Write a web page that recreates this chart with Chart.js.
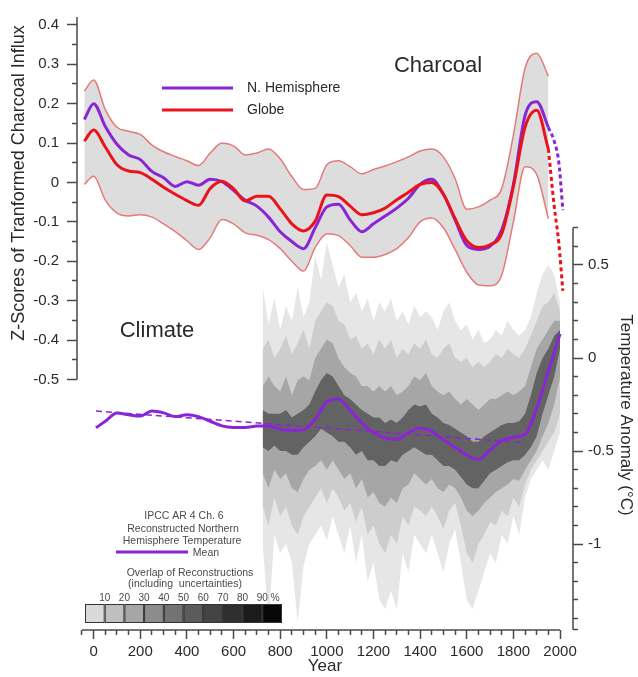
<!DOCTYPE html>
<html>
<head>
<meta charset="utf-8">
<script src="https://cdn.jsdelivr.net/npm/chart.js@4.4.1/dist/chart.umd.min.js"></script>
<style>
  html, body { margin: 0; padding: 0; background: #fff; }
  canvas { display: block; }
</style>
</head>
<body>
<canvas id="chart" width="638" height="677"></canvas>
<script>
// ---- Charcoal (z-scores of transformed charcoal influx) ----
const charcoalYears = [-40, 0, 50, 100, 150, 200, 250, 300, 350, 400, 450, 500, 550, 600, 650, 700, 750, 800, 850, 900,
  950, 1000, 1050, 1100, 1150, 1200, 1250, 1300, 1350, 1400, 1450, 1500, 1550, 1600, 1650, 1700, 1750, 1800, 1850, 1900, 1950];
const nhCharcoal = [0.16, 0.20, 0.142, 0.097, 0.07, 0.058, 0.028, 0.012, -0.01, 0.002, -0.007, 0.008, 0.002, -0.02, -0.045, -0.06, -0.088, -0.125, -0.15, -0.168,
  -0.115, -0.062, -0.055, -0.095, -0.125, -0.105, -0.085, -0.065, -0.04, -0.005, 0.008, -0.03, -0.095, -0.16, -0.17, -0.162, -0.12, -0.005, 0.17, 0.205, 0.14];
const globeCharcoal = [0.105, 0.133, 0.09, 0.045, 0.029, 0.025, 0.008, -0.012, -0.03, -0.046, -0.058, -0.015, 0.003, -0.016, -0.047, -0.035, -0.035, -0.067, -0.105, -0.123,
  -0.098, -0.032, -0.036, -0.06, -0.082, -0.077, -0.065, -0.044, -0.025, -0.005, 0.0, -0.03, -0.092, -0.148, -0.165, -0.158, -0.13, -0.01, 0.14, 0.183, 0.085];
const bandUpper = [0.232, 0.26, 0.185, 0.14, 0.13, 0.122, 0.095, 0.078, 0.066, 0.055, 0.043, 0.075, 0.10, 0.093, 0.07, 0.075, 0.085, 0.06, 0.015, -0.018,
  -0.015, 0.045, 0.055, 0.04, 0.022, 0.033, 0.042, 0.053, 0.065, 0.08, 0.085, 0.065, 0.01, -0.068, -0.062, -0.045, -0.015, 0.12, 0.29, 0.328, 0.27];
const bandLower = [-0.005, 0.016, -0.045, -0.078, -0.085, -0.082, -0.088, -0.105, -0.125, -0.148, -0.17, -0.14, -0.094, -0.105, -0.128, -0.134, -0.145, -0.168, -0.2, -0.225,
  -0.165, -0.13, -0.135, -0.16, -0.19, -0.19, -0.183, -0.168, -0.14, -0.1, -0.09, -0.115, -0.17, -0.228, -0.26, -0.262, -0.235, -0.1, 0.04, 0.02, -0.092];
// dashed recent extension
const recentYears = [1950, 1975, 1995, 2012];
const nhRecent = [0.14, 0.105, 0.05, -0.07];
const globeRecent = [0.085, -0.06, -0.155, -0.275];

// ---- Climate (IPCC AR4 reconstructed NH temperature, °C) ----
const climateYears = [10, 50, 100, 150, 200, 250, 300, 350, 400, 450, 500, 550, 600, 650, 700, 750, 800, 850, 900, 950,
  1000, 1050, 1100, 1150, 1200, 1250, 1300, 1350, 1400, 1450, 1500, 1550, 1600, 1650, 1700, 1750, 1800, 1850, 1900, 1950, 2000];
const climateMean = [-0.375, -0.34, -0.295, -0.305, -0.312, -0.285, -0.295, -0.315, -0.305, -0.315, -0.34, -0.365, -0.373, -0.373, -0.366, -0.365, -0.382, -0.39, -0.385, -0.33,
  -0.235, -0.22, -0.28, -0.35, -0.40, -0.43, -0.437, -0.40, -0.378, -0.395, -0.44, -0.48, -0.522, -0.545, -0.495, -0.445, -0.425, -0.41, -0.27, -0.07, 0.13];
const trendYears = [10, 1850];
const trendValues = [-0.285, -0.455];

// overlap of reconstructions: envelopes of four shading levels
const overlapYears = [725, 750, 775, 800, 825, 850, 875, 900, 925, 950, 975, 1000, 1025, 1050, 1075, 1100, 1125, 1150, 1175, 1200,
  1225, 1250, 1275, 1300, 1325, 1350, 1375, 1400, 1425, 1450, 1475, 1500, 1525, 1550, 1575, 1600, 1625, 1650, 1675, 1700,
  1725, 1750, 1775, 1800, 1825, 1850, 1875, 1900, 1925, 1950, 1975, 2000];
const lvl1Top = [0.38, 0.18, 0.32, 0.15, 0.28, 0.20, 0.38, 0.22, 0.30, 0.55, 0.42, 0.62, 0.50, 0.38, 0.45, 0.30, 0.35, 0.25, 0.32, 0.20,
  0.30, 0.25, 0.32, 0.20, 0.25, 0.18, 0.28, 0.22, 0.25, 0.22, 0.15, 0.25, 0.30, 0.20, 0.15, 0.18, 0.10, 0.15, 0.08, 0.10,
  0.15, 0.12, 0.20, 0.15, 0.12, 0.15, 0.22, 0.35, 0.45, 0.50, 0.45, 0.30];
const lvl1Bot = [-1.00, -1.42, -0.95, -1.05, -1.00, -1.10, -1.42, -1.12, -1.00, -0.95, -0.90, -0.98, -0.85, -0.95, -1.05, -0.90, -1.10, -0.95, -1.20, -1.10,
  -1.30, -1.35, -1.25, -1.35, -1.05, -1.15, -0.95, -1.00, -1.05, -0.95, -1.05, -1.15, -1.00, -0.92, -1.10, -1.30, -1.35, -1.25, -1.15, -1.05,
  -1.10, -0.95, -1.00, -0.85, -0.95, -0.75, -0.65, -0.60, -0.55, -0.60, -0.50, -0.40];
const lvl2Top = [0.05, 0.10, 0.00, 0.05, 0.12, 0.02, 0.08, 0.15, 0.05, 0.20, 0.25, 0.30, 0.28, 0.20, 0.18, 0.10, 0.12, 0.05, 0.08, 0.02,
  0.10, 0.05, 0.10, 0.00, 0.05, 0.02, 0.08, 0.05, 0.10, 0.02, 0.00, 0.05, 0.08, 0.00, -0.02, 0.00, -0.05, -0.02, -0.05, -0.02,
  0.02, 0.00, 0.05, 0.02, 0.00, 0.05, 0.12, 0.20, 0.28, 0.30, 0.35, 0.25];
const lvl2Bot = [-0.80, -0.90, -0.75, -0.85, -0.80, -0.90, -0.95, -0.85, -0.80, -0.75, -0.70, -0.78, -0.70, -0.75, -0.82, -0.78, -0.88, -0.80, -0.95, -0.90,
  -1.00, -1.05, -0.95, -1.00, -0.85, -0.90, -0.80, -0.82, -0.85, -0.80, -0.85, -0.92, -0.82, -0.78, -0.90, -1.05, -1.10, -1.00, -0.95, -0.88,
  -0.90, -0.82, -0.85, -0.75, -0.80, -0.68, -0.60, -0.55, -0.50, -0.45, -0.40, -0.30];
const lvl3Top = [-0.15, -0.10, -0.15, -0.18, -0.10, -0.20, -0.12, -0.10, -0.12, 0.00, 0.05, 0.10, 0.08, 0.00, -0.05, -0.08, -0.10, -0.15, -0.15, -0.18,
  -0.15, -0.18, -0.15, -0.20, -0.18, -0.15, -0.10, -0.12, -0.08, -0.15, -0.18, -0.20, -0.18, -0.22, -0.25, -0.22, -0.25, -0.28, -0.25, -0.22,
  -0.22, -0.20, -0.18, -0.20, -0.18, -0.15, -0.05, 0.05, 0.10, 0.15, 0.20, 0.20];
const lvl3Bot = [-0.62, -0.70, -0.60, -0.65, -0.62, -0.70, -0.72, -0.65, -0.60, -0.58, -0.55, -0.60, -0.55, -0.60, -0.65, -0.62, -0.70, -0.65, -0.75, -0.72,
  -0.78, -0.80, -0.75, -0.78, -0.70, -0.68, -0.62, -0.65, -0.68, -0.65, -0.70, -0.72, -0.68, -0.70, -0.75, -0.82, -0.85, -0.82, -0.78, -0.75,
  -0.72, -0.70, -0.68, -0.65, -0.66, -0.60, -0.55, -0.50, -0.42, -0.35, -0.25, -0.10];
const lvl4Top = [-0.28, -0.30, -0.30, -0.30, -0.28, -0.32, -0.30, -0.28, -0.25, -0.18, -0.12, -0.08, -0.10, -0.15, -0.20, -0.22, -0.25, -0.28, -0.30, -0.32,
  -0.32, -0.35, -0.33, -0.35, -0.32, -0.28, -0.25, -0.26, -0.25, -0.30, -0.32, -0.35, -0.36, -0.38, -0.40, -0.42, -0.45, -0.45, -0.42, -0.40,
  -0.38, -0.36, -0.35, -0.35, -0.34, -0.30, -0.20, -0.08, 0.00, 0.05, 0.12, 0.15];
const lvl4Bot = [-0.48, -0.50, -0.47, -0.50, -0.50, -0.52, -0.52, -0.48, -0.45, -0.42, -0.38, -0.40, -0.42, -0.45, -0.45, -0.48, -0.52, -0.50, -0.55, -0.55,
  -0.58, -0.58, -0.55, -0.56, -0.52, -0.50, -0.48, -0.50, -0.52, -0.52, -0.55, -0.58, -0.58, -0.60, -0.64, -0.68, -0.70, -0.70, -0.66, -0.62,
  -0.60, -0.58, -0.56, -0.55, -0.55, -0.52, -0.48, -0.42, -0.30, -0.20, -0.10, 0.05];

// ---- axes ----
const yearLabels = [0, 200, 400, 600, 800, 1000, 1200, 1400, 1600, 1800, 2000];
const charcoalLabels = [0.4, 0.3, 0.2, 0.1, 0, -0.1, -0.2, -0.3, -0.4, -0.5];
const tempLabels = [0.5, 0, -0.5, -1];
const overlapLegend = ['10', '20', '30', '40', '50', '60', '70', '80', '90'];

const PURPLE = '#8a25d6';
const RED = '#e8141c';
const EDGE = '#e57a7a';
const TEXT = '#2a2a2a';
const AXIS = '#4a4a4a';
const FONT = '"Liberation Sans", Arial, Helvetica, sans-serif';
const LEVEL_COLORS = ['#e6e6e6', '#cdcdcd', '#a6a6a6', '#636363'];
const BOX_COLORS = ['#d9d9d9', '#bfbfbf', '#a6a6a6', '#8c8c8c', '#737373', '#5b5b5b', '#444444', '#2f2f2f', '#1b1b1b', '#080808'];

Chart.defaults.font.family = FONT;
Chart.defaults.color = TEXT;

function pts(xs, ys) {
  return xs.map((x, i) => ({ x: x, y: ys[i] }));
}
function near(a, b) {
  return Math.abs(a - b) < 1e-6;
}
function stepTicks(from, to, step) {
  const out = [];
  for (let v = from; v <= to + 1e-9; v += step) out.push(Math.round(v * 1000) / 1000);
  return out;
}

// build datasets
const datasets = [];
const levels = [[lvl1Top, lvl1Bot], [lvl2Top, lvl2Bot], [lvl3Top, lvl3Bot], [lvl4Top, lvl4Bot]];
levels.forEach((lv, i) => {
  datasets.push({ data: pts(overlapYears, lv[0]), yAxisID: 'yT', fill: '+1', backgroundColor: LEVEL_COLORS[i],
    borderWidth: 0, pointRadius: 0, tension: 0, order: 90 - i * 10 });
  datasets.push({ data: pts(overlapYears, lv[1]), yAxisID: 'yT', fill: false,
    borderWidth: 0, pointRadius: 0, tension: 0, order: 89 - i * 10 });
});
datasets.push({ data: pts(trendYears, trendValues), yAxisID: 'yT', borderColor: PURPLE, borderWidth: 1.5,
  borderDash: [6, 4], pointRadius: 0, order: 50 });
datasets.push({ data: pts(climateYears, climateMean), yAxisID: 'yT', borderColor: PURPLE, borderWidth: 3,
  pointRadius: 0, cubicInterpolationMode: 'monotone', order: 45 });
datasets.push({ data: pts(charcoalYears, bandUpper), yAxisID: 'yC', fill: '+1', backgroundColor: '#dddddd',
  borderColor: EDGE, borderWidth: 1.5, pointRadius: 0, cubicInterpolationMode: 'monotone', order: 40 });
datasets.push({ data: pts(charcoalYears, bandLower), yAxisID: 'yC', fill: false,
  borderColor: EDGE, borderWidth: 1.5, pointRadius: 0, cubicInterpolationMode: 'monotone', order: 39 });
datasets.push({ data: pts(charcoalYears, nhCharcoal), yAxisID: 'yC', borderColor: PURPLE, borderWidth: 3,
  pointRadius: 0, cubicInterpolationMode: 'monotone', order: 30 });
datasets.push({ data: pts(recentYears, nhRecent), yAxisID: 'yC', borderColor: PURPLE, borderWidth: 3, borderDash: [4, 3],
  pointRadius: 0, cubicInterpolationMode: 'monotone', order: 30 });
datasets.push({ data: pts(charcoalYears, globeCharcoal), yAxisID: 'yC', borderColor: RED, borderWidth: 3,
  pointRadius: 0, cubicInterpolationMode: 'monotone', order: 20 });
datasets.push({ data: pts(recentYears, globeRecent), yAxisID: 'yC', borderColor: RED, borderWidth: 3, borderDash: [4, 3],
  pointRadius: 0, cubicInterpolationMode: 'monotone', order: 20 });

// minor ticks drawn as the inner part of the tick via a dash pattern
function tickDash(isMajor, inward) {
  return (ctx) => {
    if (isMajor(ctx.tick.value)) return [];
    return inward ? [0, 5, 5, 40] : [5, 40];
  };
}
const isYearMajor = (v) => yearLabels.some((l) => near(l, v));
const isCharMajor = (v) => charcoalLabels.some((l) => near(l, v));
const isTempMajor = (v) => tempLabels.some((l) => near(l, v));

// axes lines, titles and legends
const decorations = {
  id: 'decorations',
  afterDraw(chart) {
    const { ctx } = chart;
    const { x, yC, yT } = chart.scales;
    ctx.save();
    ctx.strokeStyle = AXIS;
    ctx.lineWidth = 1.5;
    ctx.beginPath();
    ctx.moveTo(x.getPixelForValue(-50), x.top);
    ctx.lineTo(x.getPixelForValue(2000), x.top);
    ctx.moveTo(yC.right, yC.getPixelForValue(0.42));
    ctx.lineTo(yC.right, yC.getPixelForValue(-0.5));
    ctx.moveTo(yT.left, yT.getPixelForValue(0.7));
    ctx.lineTo(yT.left, yT.getPixelForValue(-1.46));
    ctx.stroke();

    const txt = (s, px, py, size, align, rot, color) => {
      ctx.save();
      ctx.translate(px, py);
      if (rot) ctx.rotate(rot);
      ctx.font = size + 'px ' + FONT;
      ctx.fillStyle = color || TEXT;
      ctx.textAlign = align || 'center';
      ctx.textBaseline = 'middle';
      ctx.fillText(s, 0, 0);
      ctx.restore();
    };
    // axis titles
    txt('Z-Scores of Tranformed Charcoal Influx', 19, 183, 18, 'center', -Math.PI / 2);
    txt('Temperature Anomaly (\u00B0C)', 626, 415, 17, 'center', Math.PI / 2);
    // panel labels
    txt('Charcoal', 438, 66, 22);
    txt('Climate', 157, 331, 22);

    // charcoal legend
    ctx.lineWidth = 3;
    ctx.strokeStyle = PURPLE;
    ctx.beginPath(); ctx.moveTo(162, 88); ctx.lineTo(233, 88); ctx.stroke();
    ctx.strokeStyle = RED;
    ctx.beginPath(); ctx.moveTo(162, 110); ctx.lineTo(233, 110); ctx.stroke();
    txt('N. Hemisphere', 247, 88, 14, 'left');
    txt('Globe', 247, 110, 14, 'left');

    // climate legend
    const grey = '#4a4a4a';
    txt('IPCC AR 4 Ch. 6', 184, 516, 10.5, 'center', 0, grey);
    txt('Reconstructed Northern', 183, 529, 10.5, 'center', 0, grey);
    txt('Hemisphere Temperature', 182, 541, 10.5, 'center', 0, grey);
    ctx.strokeStyle = PURPLE;
    ctx.lineWidth = 3;
    ctx.beginPath(); ctx.moveTo(116, 552); ctx.lineTo(188, 552); ctx.stroke();
    txt('Mean', 206, 553, 10.5, 'center', 0, grey);
    txt('Overlap of Reconstructions', 190, 573, 10.5, 'center', 0, grey);
    txt('(including  uncertainties)', 185, 584, 10.5, 'center', 0, grey);
    const bx = 85, bw = 19.7, by = 604, bh = 19;
    BOX_COLORS.forEach((c, i) => {
      ctx.fillStyle = c;
      ctx.fillRect(bx + i * bw, by, bw, bh);
      ctx.strokeStyle = '#333';
      ctx.lineWidth = 1;
      ctx.strokeRect(bx + i * bw + 0.5, by + 0.5, bw - 1, bh - 1);
    });
    overlapLegend.forEach((s, i) => txt(s, bx + (i + 1) * bw, 598, 10, 'center', 0, grey));
    txt('%', bx + 9 * bw + 13, 598, 10, 'center', 0, grey);
    ctx.restore();
  }
};

new Chart(document.getElementById('chart'), {
  type: 'line',
  data: { datasets: datasets },
  options: {
    responsive: false,
    animation: false,
    events: [],
    layout: { padding: { top: 17, left: 0, right: 0, bottom: 0 } },
    plugins: { legend: { display: false }, tooltip: { enabled: false } },
    scales: {
      x: {
        type: 'linear',
        position: 'bottom',
        min: -71.4,
        max: 2055.6,
        afterBuildTicks: (s) => { s.ticks = stepTicks(-50, 2000, 50).map((v) => ({ value: v })); },
        afterFit: (s) => { s.height = 47; },
        border: { display: false },
        grid: { drawOnChartArea: false, tickLength: 9, tickColor: AXIS, tickWidth: 1.5,
          tickBorderDash: tickDash(isYearMajor, false) },
        ticks: { autoSkip: false, maxRotation: 0, padding: 4, color: TEXT, font: { size: 15 },
          callback: (v) => (isYearMajor(v) ? String(Math.round(v)) : '') },
        title: { display: true, text: 'Year', color: TEXT, font: { size: 17 }, padding: { top: 0, bottom: 0 } }
      },
      yC: {
        type: 'linear',
        position: 'left',
        min: -1.136,
        max: 0.42,
        afterBuildTicks: (s) => { s.ticks = stepTicks(-0.5, 0.4, 0.05).map((v) => ({ value: v })); },
        afterFit: (s) => { s.width = 77; },
        border: { display: false },
        grid: { drawOnChartArea: false, tickLength: 10, tickColor: AXIS, tickWidth: 1.5,
          tickBorderDash: tickDash(isCharMajor, true) },
        ticks: { autoSkip: false, padding: 8, color: TEXT, font: { size: 15 },
          callback: (v) => (isCharMajor(v) ? (near(v, 0) ? '0' : v.toFixed(1)) : '') }
      },
      yT: {
        type: 'linear',
        position: 'right',
        min: -1.462,
        max: 1.833,
        afterBuildTicks: (s) => {
          s.ticks = [{ value: -1.46 }].concat(stepTicks(-1.4, 0.7, 0.1).map((v) => ({ value: v })));
        },
        afterFit: (s) => { s.width = 65; },
        border: { display: false },
        grid: { drawOnChartArea: false, tickLength: 10, tickColor: AXIS, tickWidth: 1.5,
          tickBorderDash: tickDash(isTempMajor, false) },
        ticks: { autoSkip: false, padding: 5, color: TEXT, font: { size: 15 },
          callback: (v) => (isTempMajor(v) ? (near(v, 0) ? '0' : String(v)) : '') }
      }
    }
  },
  plugins: [decorations]
});
</script>
</body>
</html>
